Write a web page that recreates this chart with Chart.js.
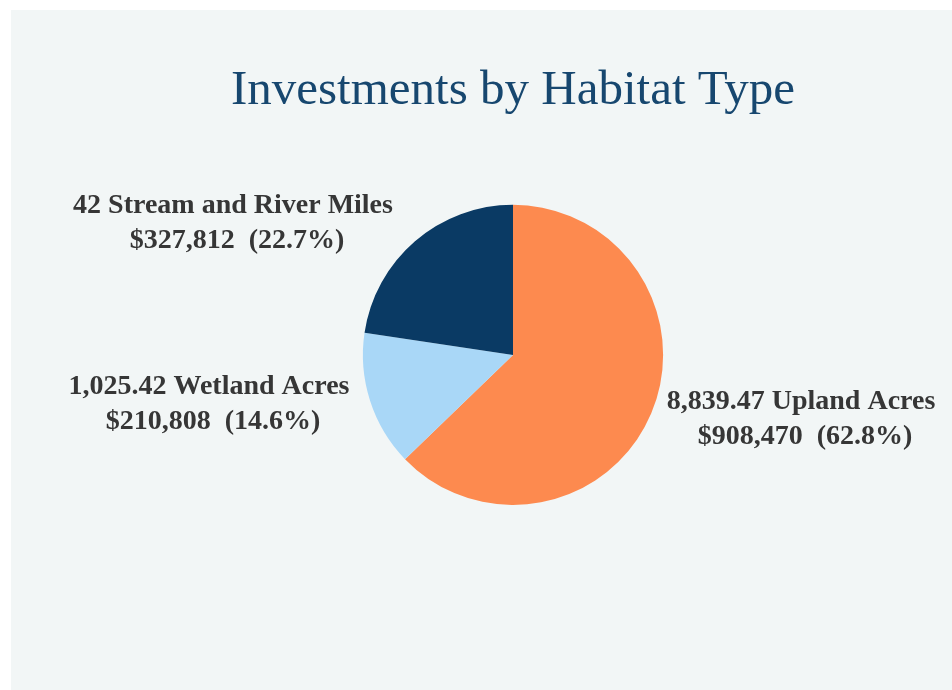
<!DOCTYPE html>
<html>
<head>
<meta charset="utf-8">
<title>Investments by Habitat Type</title>
<script src="https://cdn.jsdelivr.net/npm/chart.js@4/dist/chart.umd.min.js"></script>
<style>
  html, body { margin: 0; padding: 0; background: #ffffff; overflow: hidden; }
  #panel { position: absolute; left: 11px; top: 10px; width: 941px; height: 680px; background: #f2f6f6; }
  #myChart { position: absolute; left: 0; top: 0; }
</style>
</head>
<body>
<div id="panel"></div>
<canvas id="myChart" width="1026" height="690"></canvas>
<script>
// habitat categories, in the order the slices go clockwise from 12 o'clock
const HABITAT_TYPES = ['Upland Acres', 'Wetland Acres', 'Stream and River Miles'];
const HABITAT_AMOUNTS = ['8,839.47', '1,025.42', '42'];
const INVESTMENTS = [908470, 210808, 327812];
const SLICE_COLORS = ['#fd8a4f', '#a9d7f7', '#0a3a64'];

const total = INVESTMENTS.reduce((a, b) => a + b, 0);

function formatDollars(value) {
  return '$' + value.toLocaleString('en-US');
}

function formatShare(value) {
  return (value / total * 100).toFixed(1) + '%';
}

// writes the two-line label next to each slice
const sliceLabels = {
  id: 'sliceLabels',
  afterDatasetsDraw(chart, args, opts) {
    const ctx = chart.ctx;
    const arcs = chart.getDatasetMeta(0).data;
    ctx.save();
    ctx.font = opts.font;
    ctx.fillStyle = opts.color;
    ctx.textAlign = 'center';
    ctx.textBaseline = 'alphabetic';
    arcs.forEach((arc, i) => {
      const off = opts.offsets[i];
      const x = arc.x + off.dx;
      const y = arc.y + off.dy;
      ctx.fillText(HABITAT_AMOUNTS[i] + ' ' + HABITAT_TYPES[i], x, y);
      ctx.fillText(formatDollars(INVESTMENTS[i]) + '  (' + formatShare(INVESTMENTS[i]) + ')', x + 4, y + opts.lineGap);
    });
    ctx.restore();
  }
};

const ctx = document.getElementById('myChart').getContext('2d');

const myChart = new Chart(ctx, {
  type: 'pie',
  data: {
    labels: HABITAT_TYPES,
    datasets: [
      {
        data: INVESTMENTS,
        backgroundColor: SLICE_COLORS,
        borderWidth: 0,
      },
    ],
  },
  options: {
    responsive: false,
    animation: false,
    layout: {
      padding: { top: 0, bottom: 185, left: 0, right: 0 },
    },
    plugins: {
      legend: { display: false },
      tooltip: { enabled: false },
      title: {
        display: true,
        text: 'Investments by Habitat Type',
        color: '#17476f',
        font: { family: '"Liberation Serif", "Times New Roman", serif', size: 49, weight: 'normal', lineHeight: 1.2 },
        padding: { top: 62, bottom: 84 },
      },
      sliceLabels: {
        font: 'bold 28px "Liberation Serif", "Times New Roman", serif',
        color: '#363636',
        lineGap: 35,
        offsets: [
          { dx: 288, dy: 54 },
          { dx: -304, dy: 39 },
          { dx: -280, dy: -142 },
        ],
      },
    },
  },
  plugins: [sliceLabels],
});
</script>
</body>
</html>
